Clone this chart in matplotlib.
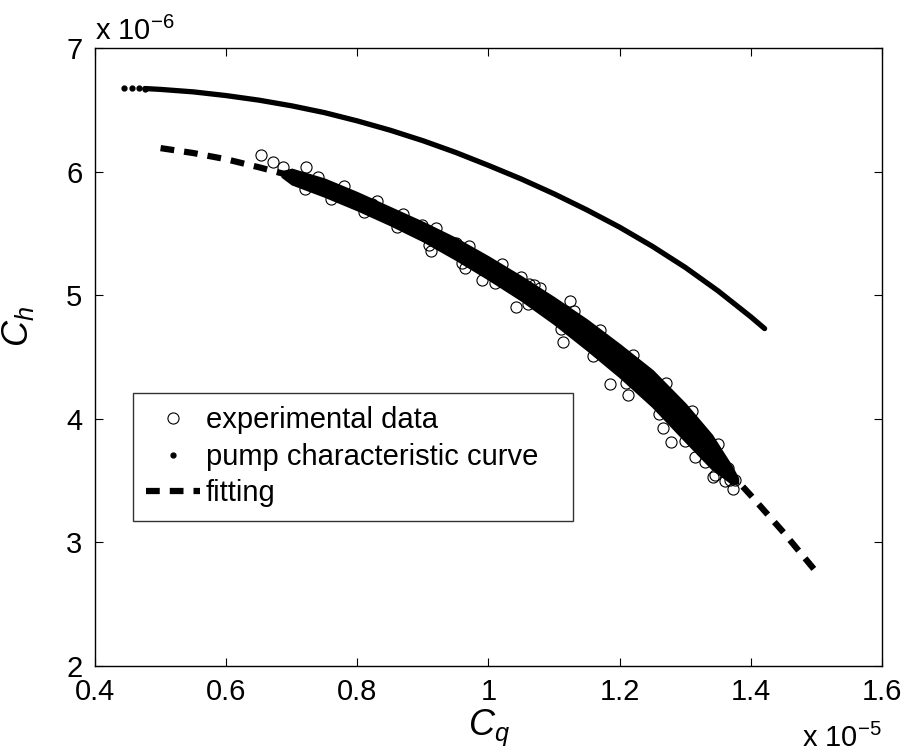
#!/usr/bin/env python3
"""Pump head coefficient vs flow coefficient: data, pump curve and fit."""

import matplotlib
matplotlib.use("Agg")
import matplotlib.pyplot as plt

plt.rcParams["font.family"] = ["Liberation Sans", "DejaVu Sans"]
plt.rcParams["mathtext.fontset"] = "custom"
plt.rcParams["mathtext.rm"] = "Liberation Sans"
plt.rcParams["mathtext.it"] = "Liberation Sans:italic"

# values in units of 1e-5 (Cq) and 1e-6 (Ch)
pump_cq = [0.444, 0.457, 0.467, 0.476, 0.50, 0.55, 0.60, 0.65, 0.70, 0.75, 0.80, 0.85,
           0.90, 0.95, 1.00, 1.05, 1.10, 1.15, 1.20, 1.25, 1.30, 1.35, 1.40, 1.421]
pump_ch = [6.680, 6.677, 6.675, 6.672, 6.665, 6.645, 6.615, 6.578, 6.532, 6.477, 6.410, 6.335,
           6.250, 6.155, 6.050, 5.940, 5.820, 5.690, 5.550, 5.395, 5.225, 5.035, 4.825, 4.730]

fit_cq = [0.50, 0.55, 0.60, 0.65, 0.70, 0.75, 0.80, 0.85, 0.90, 0.95, 1.00,
          1.05, 1.10, 1.15, 1.20, 1.25, 1.30, 1.35, 1.40, 1.45, 1.50]
fit_ch = [6.19, 6.15, 6.10, 6.035, 5.965, 5.88, 5.78, 5.665, 5.54, 5.40, 5.23,
          5.05, 4.86, 4.65, 4.43, 4.19, 3.94, 3.67, 3.38, 3.08, 2.76]

# dense core of the measurement cloud (solid black in the picture)
band_cq = [0.685, 0.70, 0.75, 0.80, 0.85, 0.90, 0.95, 1.00, 1.05, 1.10, 1.15, 1.20,
           1.25, 1.30, 1.34, 1.37, 1.38]
band_hi = [6.00, 6.02, 5.94, 5.83, 5.71, 5.59, 5.46, 5.31, 5.15, 4.98, 4.80, 4.60,
           4.39, 4.12, 3.87, 3.62, 3.52]
band_lo = [5.96, 5.90, 5.80, 5.69, 5.57, 5.44, 5.29, 5.13, 4.96, 4.77, 4.56, 4.34,
           4.10, 3.82, 3.60, 3.48, 3.48]

# individual measurement points visible around the cloud
exp_cq = [0.6525, 0.671, 0.687, 0.721, 0.822, 0.898, 0.913, 0.951, 0.964, 0.99,
          1.042, 1.05, 1.062, 1.079, 1.114, 1.124, 1.185, 1.212, 1.241, 1.266,
          1.279, 1.313, 1.315, 1.342, 1.345, 1.365, 1.368, 1.373, 1.376,
          0.74, 0.78, 0.83, 0.87, 0.92, 0.97, 1.02, 1.07, 1.13, 1.17, 1.22, 1.27, 1.31, 1.35,
          0.72, 0.76, 0.81, 0.86, 0.91, 0.96, 1.01, 1.06, 1.11, 1.16, 1.21, 1.26, 1.30, 1.33, 1.36]
exp_ch = [6.132, 6.075, 6.04, 6.04, 5.74, 5.57, 5.36, 5.42, 5.22, 5.12,
          4.905, 5.15, 5.09, 5.06, 4.62, 4.955, 4.28, 4.19, 4.32, 3.925,
          3.81, 3.92, 3.69, 3.53, 3.545, 3.60, 3.505, 3.43, 3.505,
          5.96, 5.88, 5.76, 5.66, 5.54, 5.40, 5.25, 5.08, 4.87, 4.72, 4.52, 4.29, 4.06, 3.80,
          5.86, 5.78, 5.67, 5.55, 5.41, 5.26, 5.10, 4.93, 4.73, 4.51, 4.29, 4.04, 3.82, 3.65, 3.50]

xticks = [0.4, 0.6, 0.8, 1.0, 1.2, 1.4, 1.6]
xticklabels = ["0.4", "0.6", "0.8", "1", "1.2", "1.4", "1.6"]
yticks = [2, 3, 4, 5, 6, 7]


def main() -> None:
    fig = plt.figure(figsize=(9.07, 7.55), dpi=100)
    ax = fig.add_axes([95 / 907, 89 / 755, 787 / 907, 618 / 755])

    ax.fill_between(band_cq, band_lo, band_hi, color="black", lw=1.5, zorder=2)
    ax.plot(exp_cq, exp_ch, "o", ms=8, mfc="none", mec="black", mew=0.8,
            label="experimental data", zorder=3)
    ax.plot(pump_cq[3:], pump_ch[3:], "-", color="black", lw=3.8,
            solid_capstyle="round", zorder=2)
    ax.plot(pump_cq[:4], pump_ch[:4], ".", color="black", ms=7,
            label="pump characteristic curve", zorder=2)
    ax.plot(fit_cq, fit_ch, color="black", lw=4.5, dashes=(2.2, 1.6), label="fitting", zorder=1)

    ax.set_xlim(0.4, 1.6)
    ax.set_ylim(2, 7)
    ax.set_xticks(xticks)
    ax.set_xticklabels(xticklabels)
    ax.set_yticks(yticks)
    ax.tick_params(direction="in", length=5.5, width=0.8, labelsize=21,
                   top=True, right=True, pad=9)
    for sp in ax.spines.values():
        sp.set_linewidth(1.0)

    ax.set_xlabel("$C_q$", fontsize=26)
    ax.xaxis.set_label_coords(0.5, -0.068)
    ax.xaxis.label.set_va("top")
    ax.set_ylabel("$C_h$", fontsize=26)
    ax.yaxis.set_label_coords(-0.075, 0.55)

    fig.text(95 / 907, 1 - 40 / 755, "x 10$^{-6}$", fontsize=21, ha="left", va="baseline")
    fig.text(882 / 907, 1 - 747 / 755, "x 10$^{-5}$", fontsize=21, ha="right", va="baseline")

    leg = ax.legend(loc="upper left", bbox_to_anchor=(0.048, 0.2, 0.559, 0.242),
                    mode="expand", borderaxespad=0, fontsize=21, handlelength=1.85,
                    handletextpad=0.2, labelspacing=0.3, borderpad=0.45,
                    fancybox=False, frameon=True)
    leg.get_frame().set_edgecolor("black")
    leg.get_frame().set_linewidth(1.0)

    fig.savefig("out.png", dpi=100)
    plt.close(fig)


if __name__ == "__main__":
    main()
